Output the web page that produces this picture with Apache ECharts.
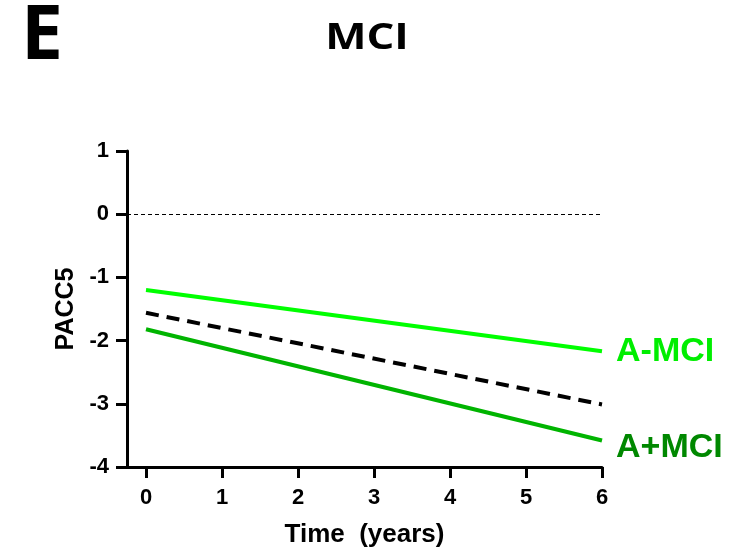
<!DOCTYPE html>
<html>
<head>
<meta charset="utf-8">
<script src="https://cdn.jsdelivr.net/npm/echarts@6/dist/echarts.min.js"></script>
<style>
html,body{margin:0;padding:0;background:#fff;}
#chart{width:751px;height:554px;}
</style>
</head>
<body>
<div id="chart"></div>
<script>
const years = [0, 6];
const xTicks = [0, 1, 2, 3, 4, 5, 6];
const aMinusMCI = [-1.20, -2.17];
const overallMCI = [-1.56, -3.01];
const aPlusMCI = [-1.82, -3.58];
const seriesNames = ['A-MCI', 'A+MCI'];
const panelLetter = 'E';
const panelTitle = 'MCI';

const chart = echarts.init(document.getElementById('chart'), null, {renderer: 'canvas'});
const AX = '#000';
const FONT = '"Liberation Sans", Arial, sans-serif';

function pts(vals) { return years.map((x, i) => [x, vals[i]]); }

chart.setOption({
  animation: false,
  backgroundColor: '#fff',
  graphic: [{
    type: 'text',
    x: 21,
    y: 38,
    style: {text: panelLetter, font: 'bold 75px "Open Sans", sans-serif', fill: '#000',
      align: 'left', verticalAlign: 'middle'}
  }, {
    type: 'text',
    x: 367,
    y: 39,
    scaleX: 1.25,
    originX: 0,
    style: {text: panelTitle, font: 'bold 35px "Open Sans", sans-serif', fill: '#000',
      align: 'center', verticalAlign: 'middle'}
  }],
  grid: {left: 127, right: 149, top: 151, bottom: 87, containLabel: false},
  xAxis: {
    type: 'value',
    min: -0.25,
    max: 6,
    name: 'Time  (years)',
    nameLocation: 'middle',
    nameGap: 55,
    nameTextStyle: {fontFamily: FONT, fontWeight: 'bold', fontSize: 26, color: '#000'},
    splitLine: {show: false},
    axisLine: {show: true, onZero: false, lineStyle: {color: AX, width: 3}},
    axisTick: {show: true, customValues: xTicks, length: 11, lineStyle: {color: AX, width: 3}},
    axisLabel: {customValues: xTicks, margin: 20, fontFamily: FONT, fontWeight: 'bold', fontSize: 22, color: '#000'}
  },
  yAxis: {
    type: 'value',
    min: -4,
    max: 1,
    interval: 1,
    name: 'PACC5',
    nameLocation: 'middle',
    nameGap: 47,
    nameTextStyle: {fontFamily: FONT, fontWeight: 'bold', fontSize: 25, color: '#000'},
    splitLine: {show: false},
    axisLine: {show: true, onZero: false, lineStyle: {color: AX, width: 3}},
    axisTick: {show: true, length: 11, lineStyle: {color: AX, width: 3}},
    axisLabel: {margin: 18, fontFamily: FONT, fontWeight: 'bold', fontSize: 22, color: '#000'}
  },
  series: [
    {
      name: seriesNames[0],
      type: 'line',
      data: pts(aMinusMCI),
      symbol: 'none',
      lineStyle: {color: '#00ff00', width: 4},
      z: 3,
      endLabel: {show: true, formatter: '{a}', distance: 14, offset: [0, 0],
        fontFamily: FONT, fontWeight: 'bold', fontSize: 34, color: '#00ee00'},
      markLine: {
        silent: true, symbol: 'none',
        label: {show: false},
        lineStyle: {color: '#000', width: 1, type: [4, 3]},
        data: [{yAxis: 0}]
      }
    },
    {
      name: 'overall',
      type: 'line',
      data: pts(overallMCI),
      symbol: 'none',
      lineStyle: {color: '#000', width: 4, type: [13, 8]},
      z: 3
    },
    {
      name: seriesNames[1],
      type: 'line',
      data: pts(aPlusMCI),
      symbol: 'none',
      lineStyle: {color: '#00b400', width: 4},
      z: 3,
      endLabel: {show: true, formatter: '{a}', distance: 14, offset: [0, 7],
        fontFamily: FONT, fontWeight: 'bold', fontSize: 34, color: '#008800'}
    }
  ]
});
</script>
</body>
</html>
